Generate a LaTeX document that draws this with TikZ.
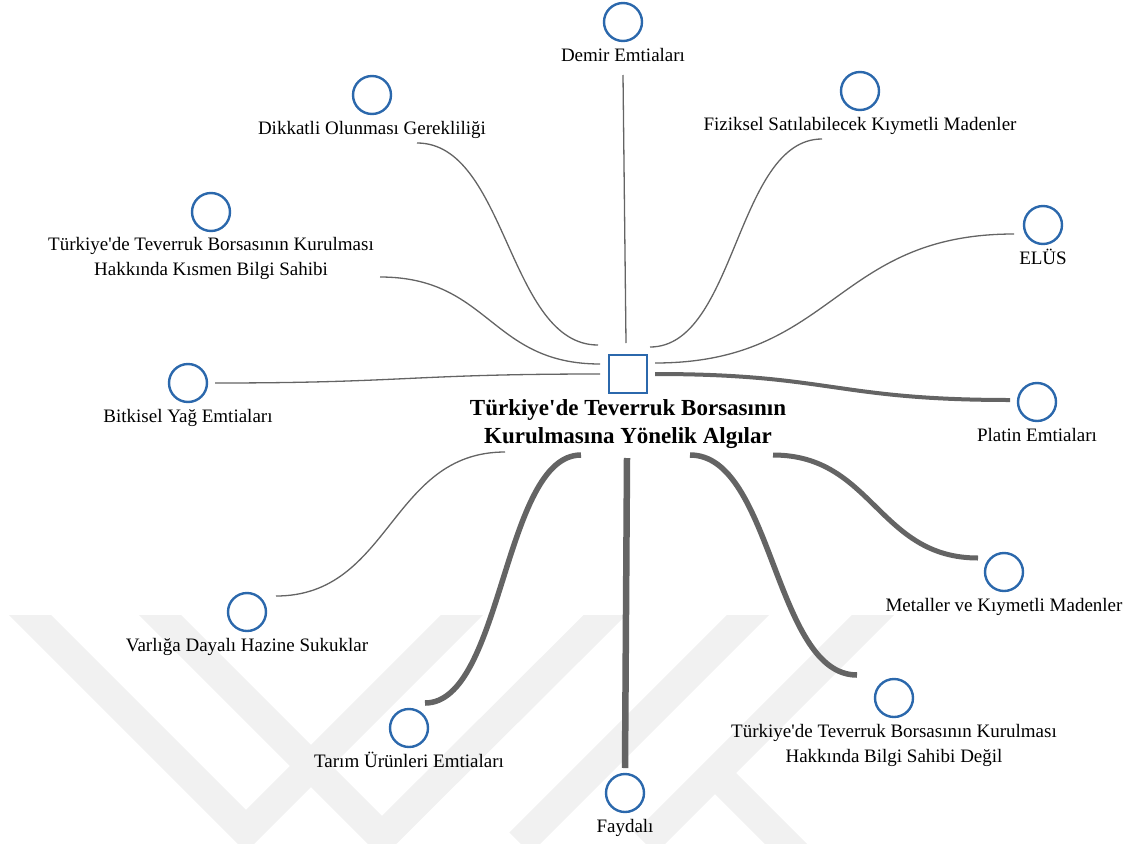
\documentclass[tikz,border=0pt]{standalone}
\usepackage{fontspec}
\setmainfont{Liberation Serif}
\usetikzlibrary{positioning}

\definecolor{nodeblue}{RGB}{43,104,172}
\definecolor{linkgray}{RGB}{100,100,100}
\definecolor{markgray}{RGB}{241,241,241}

\tikzstyle{hub} = [rectangle, minimum width=38pt, minimum height=38pt, draw=nodeblue, line width=2.4pt, fill=white, inner sep=0pt]
\tikzstyle{leaf} = [circle, minimum size=38pt, draw=nodeblue, line width=2.4pt, fill=white, inner sep=0pt]
\tikzstyle{caption} = [align=center, inner sep=0pt, font=\fontsize{19}{25}\selectfont]
\tikzstyle{hub_title} = [align=center, inner sep=0pt, font=\bfseries\fontsize{23}{28}\selectfont]
\tikzstyle{thin_link} = [draw=linkgray, line width=1.3pt]
\tikzstyle{thick_link} = [draw=linkgray, line width=5pt]
\tikzstyle{band} = [draw=markgray, line width=30pt]

\begin{document}
\begin{tikzpicture}[x=1pt, y=-1pt]

    \useasboundingbox (0,0) rectangle (1131,843);

    % Watermark
    \begin{scope}
        \clip (0,615) rectangle (1131,843);
        \draw [band] (10,595) -- (246,831) -- (482,595);
        \draw [band] (140,595) -- (382,837) -- (625,595);
        \draw [band] (768,595) -- (520,843);
        \draw [band] (893,595) -- (645,843);
        \draw [band] (705,763) -- (800,858);
    \end{scope}

    % Nodes
    \node (hub) [hub] at (628,374) {};
    \node (hubtext) [hub_title, below=5pt of hub] {Türkiye\textquotesingle de Teverruk Borsasının \\ Kurulmasına Yönelik Algılar};

    \node (demir) [leaf] at (623,22) {};
    \node (demir_lbl) [caption, below=6pt of demir] {Demir Emtiaları};
    \node (dikkat) [leaf] at (372,95) {};
    \node (dikkat_lbl) [caption, below=6pt of dikkat] {Dikkatli Olunması Gerekliliği};
    \node (fizik) [leaf] at (860,91) {};
    \node (fizik_lbl) [caption, below=6pt of fizik] {Fiziksel Satılabilecek Kıymetli Madenler};
    \node (kismen) [leaf] at (211,212) {};
    \node (kismen_lbl) [caption, below=5pt of kismen] {Türkiye\textquotesingle de Teverruk Borsasının Kurulması \\ Hakkında Kısmen Bilgi Sahibi};
    \node (elus) [leaf] at (1043,225) {};
    \node (elus_lbl) [caption, text height=13pt, below=6pt of elus] {ELÜS};
    \node (bitki) [leaf] at (188,383) {};
    \node (bitki_lbl) [caption, below=6pt of bitki] {Bitkisel Yağ Emtiaları};
    \node (platin) [leaf] at (1037,402) {};
    \node (platin_lbl) [caption, below=6pt of platin] {Platin Emtiaları};
    \node (metal) [leaf] at (1004,572) {};
    \node (metal_lbl) [caption, below=6pt of metal] {Metaller ve Kıymetli Madenler};
    \node (varlik) [leaf] at (247,612) {};
    \node (varlik_lbl) [caption, below=6pt of varlik] {Varlığa Dayalı Hazine Sukuklar};
    \node (tarim) [leaf] at (409,728) {};
    \node (tarim_lbl) [caption, text height=13pt, below=6pt of tarim] {Tarım Ürünleri Emtiaları};
    \node (fayda) [leaf] at (625,793) {};
    \node (fayda_lbl) [caption, below=6pt of fayda] {Faydalı};
    \node (degil) [leaf] at (894,698) {};
    \node (degil_lbl) [caption, below=6pt of degil] {Türkiye\textquotesingle de Teverruk Borsasının Kurulması \\ Hakkında Bilgi Sahibi Değil};

    % Line ends
    \coordinate (demir_in) at (626,343);    \coordinate (demir_out) at (623,75);
    \coordinate (dikkat_in) at (598,345);   \coordinate (dikkat_out) at (417,143);
    \coordinate (kismen_in) at (600,364);   \coordinate (kismen_out) at (380,277);
    \coordinate (bitki_in) at (600,374);    \coordinate (bitki_out) at (215,383);
    \coordinate (varlik_in) at (505,452);   \coordinate (varlik_out) at (276,596);
    \coordinate (tarim_in) at (581,455);    \coordinate (tarim_out) at (425,703);
    \coordinate (fayda_in) at (627,458);    \coordinate (fayda_out) at (625,768);
    \coordinate (degil_in) at (690,455);    \coordinate (degil_out) at (857,675);
    \coordinate (metal_in) at (773,455);    \coordinate (metal_out) at (978,558);
    \coordinate (platin_in) at (655,374);   \coordinate (platin_out) at (1010,400);
    \coordinate (elus_in) at (655,363);     \coordinate (elus_out) at (1014,234);
    \coordinate (fizik_in) at (650,347);    \coordinate (fizik_out) at (822,139);

    % Links
    \draw [thin_link] (demir_in) -- (demir_out);
    \draw [thin_link] (dikkat_out) .. controls +(90,0) and +(-90,0) .. (dikkat_in);
    \draw [thin_link] (kismen_out) .. controls +(110,0) and +(-110,0) .. (kismen_in);
    \draw [thin_link] (bitki_out) .. controls +(190,0) and +(-190,0) .. (bitki_in);
    \draw [thin_link] (varlik_out) .. controls +(115,0) and +(-115,0) .. (varlik_in);
    \draw [thin_link] (elus_in) .. controls +(180,0) and +(-180,0) .. (elus_out);
    \draw [thin_link] (fizik_in) .. controls +(86,0) and +(-86,0) .. (fizik_out);

    \draw [thick_link, line width=5.5pt] (tarim_out) .. controls +(78,0) and +(-78,0) .. (tarim_in);
    \draw [thick_link, line width=6.5pt] (fayda_in) -- (fayda_out);
    \draw [thick_link, line width=5.5pt] (degil_in) .. controls +(83,0) and +(-83,0) .. (degil_out);
    \draw [thick_link] (metal_in) .. controls +(100,0) and +(-100,0) .. (metal_out);
    \draw [thick_link, line width=4pt] (platin_in) .. controls +(175,0) and +(-175,0) .. (platin_out);

\end{tikzpicture}
\end{document}
